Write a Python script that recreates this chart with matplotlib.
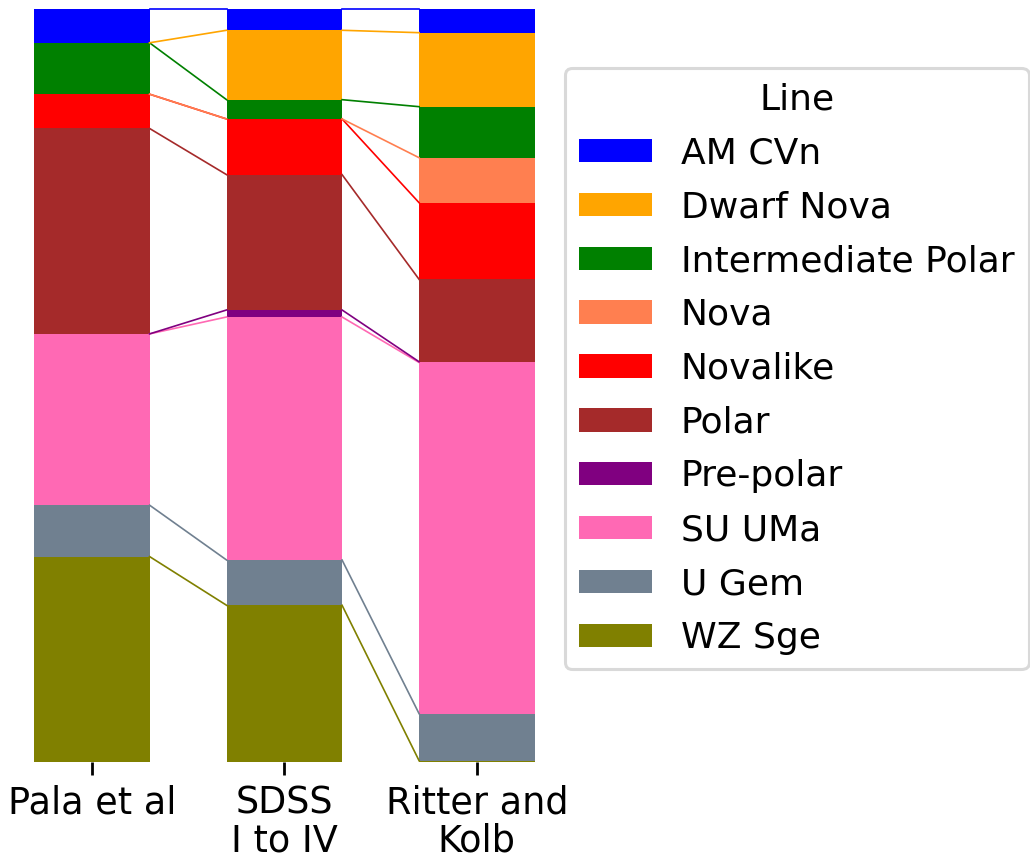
import matplotlib
matplotlib.use("Agg")
import matplotlib.pyplot as plt
import numpy as np

categories = ["AM CVn", "Dwarf Nova", "Intermediate Polar", "Nova", "Novalike",
              "Polar", "Pre-polar", "SU UMa", "U Gem", "WZ Sge"]
colors = ["blue", "orange", "green", "coral", "red",
          "brown", "purple", "hotpink", "slategray", "olive"]
surveys = ["Pala et al", "SDSS\nI to IV", "Ritter and\nKolb"]

# fractions per survey, in category order
pala = [0.0455, 0.0, 0.0682, 0.0, 0.0455, 0.2727, 0.0, 0.2273, 0.0682, 0.2727]
sdss = [0.0289, 0.0921, 0.0256, 0.0, 0.0739, 0.1796, 0.0093, 0.3225, 0.0601, 0.2080]
ritter = [0.0321, 0.0982, 0.0677, 0.0597, 0.1017, 0.1094, 0.0010, 0.4660, 0.0624, 0.0018]

data = np.array([pala, sdss, ritter])
data = data / data.sum(axis=1, keepdims=True)

fig = plt.figure(figsize=(10.30, 8.61), dpi=100)
ax = fig.add_axes([9 / 1030, 99 / 861, 550.6 / 1030, 753.5 / 861])

x = np.arange(len(surveys))
width = 0.6
tops = 1 - np.concatenate([np.zeros((len(surveys), 1)), np.cumsum(data, axis=1)[:, :-1]], axis=1)

for j, (cat, col) in enumerate(zip(categories, colors)):
    ax.bar(x, data[:, j], bottom=tops[:, j] - data[:, j], width=width,
           color=col, label=cat, linewidth=0)

for j in reversed(range(len(categories))):
    for i in range(len(surveys) - 1):
        ax.plot([x[i] + width / 2, x[i + 1] - width / 2], [tops[i, j], tops[i + 1, j]],
                color=colors[j], lw=1.2, clip_on=False, zorder=3)

ax.set_xlim(-0.43, 2.43)
ax.set_ylim(0, 1)
for s in ax.spines.values():
    s.set_visible(False)
ax.set_yticks([])
ax.set_xticks(x)
ax.set_xticklabels(surveys, fontsize=26.4, linespacing=1.04)
ax.tick_params(axis="x", length=9.4, width=2, pad=7)

leg = ax.legend(title="Line", loc="upper left",
                bbox_to_anchor=(565 / 1030, (861 - 68) / 861),
                bbox_transform=fig.transFigure,
                fontsize=26, title_fontsize=26, handlelength=2.0,
                handleheight=0.62, labelspacing=0.55, frameon=True,
                borderaxespad=0)
leg.get_frame().set_edgecolor("#d0d0d0")
leg.get_frame().set_linewidth(2.2)

fig.savefig("out.png", dpi=100)
